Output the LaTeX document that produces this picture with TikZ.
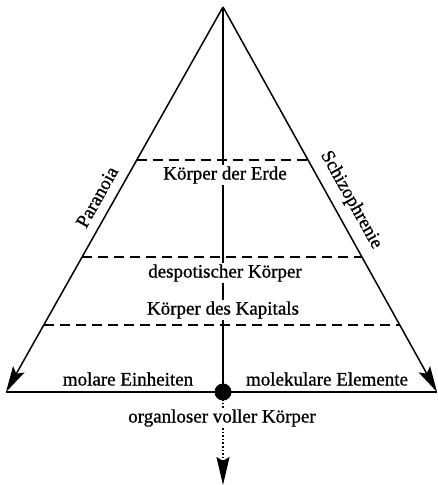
\documentclass[tikz,border=0pt]{standalone}
\usepackage{fontspec}
\setmainfont{Liberation Serif}
\newfontfamily\heavyserif{Liberation Serif}[FakeBold=0.9]
\usetikzlibrary{arrows.meta,calc}
\begin{document}
\begin{tikzpicture}[x=1pt,y=-1pt,
  sidearrow/.style={line width=1.5pt,-{Stealth[length=26pt,width=13pt,inset=5pt]}},
  baseline/.style={line width=1.5pt},
  divider/.style={line width=1.4pt,dash pattern=on 10pt off 6pt},
  axis/.style={line width=1.2pt},
  label/.style={font=\heavyserif\fontsize{19}{21}\selectfont,fill=white,inner sep=1.5pt},
  sidelabel/.style={font=\heavyserif\fontsize{19}{21}\selectfont,inner sep=1pt},
  downarrow/.style={line width=1.6pt,dotted,-{Stealth[length=28pt,width=13pt,inset=4pt,sep=0pt]}}
]
\useasboundingbox (0,0) rectangle (438,485);
\coordinate (A) at (223,7);
\coordinate (L) at (6,392);
\coordinate (R) at (437,392);
\coordinate (B) at (223,392);
\coordinate (E) at (223,485);
% dashed dividers
\coordinate (d1l) at ($(A)!0.397!(L)$);
\coordinate (d1r) at ($(A)!0.397!(R)$);
\coordinate (d2l) at ($(A)!0.649!(L)$);
\coordinate (d2r) at ($(A)!0.649!(R)$);
\coordinate (d3l) at ($(A)!0.826!(L)$);
\coordinate (d3r) at ($(A)!0.826!(R)$);
\draw[divider] (d1l) -- (d1r);
\draw[divider] (d2l) -- (d2r);
\draw[divider] (d3l) -- (d3r);
% sides and base
\draw[sidearrow] (A) -- (L);
\draw[sidearrow] (A) -- (R);
\draw[baseline] (L) -- (R);
% centre axis
\draw[axis] (A) -- (B);
\draw[downarrow] (B) -- (E);
\node[circle,fill=black,minimum size=17pt,inner sep=0pt] (dot) at (B) {};
% labels
\node[label] (erde) at (225,175) {Körper der Erde};
\node[label] (desp) at (225,273) {despotischer Körper};
\node[label] (kap) at (223,310) {Körper des Kapitals};
\node[label,fill=none] (mol) at (128,379) {molare Einheiten};
\node[label,fill=none] (mlk) at (327,379) {molekulare Elemente};
\node[label] (ovk) at (222,418) {organloser voller Körper};
\node[sidelabel,rotate=60.7] (par) at (97,197) {Paranoia};
\node[sidelabel,rotate=-60.9] (sch) at (351,200) {Schizophrenie};
\end{tikzpicture}
\end{document}
